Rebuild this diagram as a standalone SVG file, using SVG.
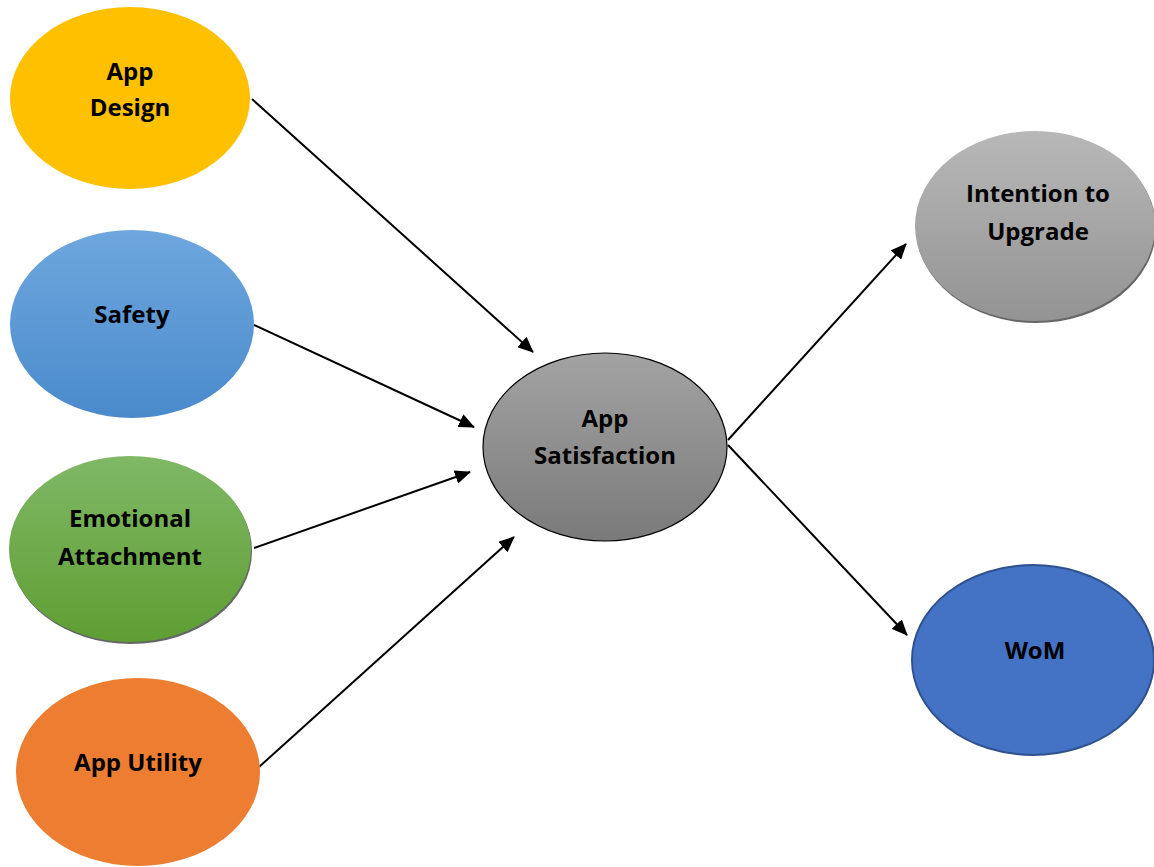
<svg xmlns="http://www.w3.org/2000/svg" width="1154" height="867" viewBox="0 0 1154 867">
<style>
.t{font-family:"Open Sans","Liberation Sans",sans-serif;font-weight:bold;font-size:24px;fill:#000;text-anchor:middle}
.c{stroke:#000;stroke-width:2;fill:none;marker-end:url(#ah)}
</style>
<defs>
<marker id="ah" viewBox="0 0 16 14" refX="15" refY="7" markerWidth="16" markerHeight="14" markerUnits="userSpaceOnUse" orient="auto"><path d="M0,0 L16,7 L0,14 z" fill="#000"/></marker>
<linearGradient id="gBlue" x1="0" y1="0" x2="0" y2="1"><stop offset="0" stop-color="#6ea7de"/><stop offset="1" stop-color="#4a8acb"/></linearGradient>
<linearGradient id="gGreen" x1="0" y1="0" x2="0" y2="1"><stop offset="0" stop-color="#80b866"/><stop offset="1" stop-color="#5e9e32"/></linearGradient>
<linearGradient id="gGray" x1="0" y1="0" x2="0" y2="1"><stop offset="0" stop-color="#a3a3a3"/><stop offset="1" stop-color="#7a7a7a"/></linearGradient>
<linearGradient id="gGray2" x1="0" y1="0" x2="0" y2="1"><stop offset="0" stop-color="#b8b8b8"/><stop offset="1" stop-color="#939393"/></linearGradient>
</defs>
<g id="connectors">
<line class="c" x1="252" y1="99" x2="533" y2="352"/>
<line class="c" x1="254" y1="325" x2="474" y2="427"/>
<line class="c" x1="254" y1="548" x2="470" y2="472"/>
<line class="c" x1="259" y1="767" x2="514" y2="537"/>
<line class="c" x1="728" y1="440" x2="906" y2="244"/>
<line class="c" x1="728" y1="445" x2="907" y2="635"/>
</g>
<g id="app-design">
<ellipse cx="130" cy="98" rx="120" ry="91" fill="#ffc000"/>
<text class="t" x="130" y="80">App</text>
<text class="t" x="130" y="116">Design</text>
</g>
<g id="safety">
<ellipse cx="132" cy="324" rx="122" ry="94" fill="url(#gBlue)"/>
<text class="t" x="132" y="323">Safety</text>
</g>
<g id="emotional-attachment">
<ellipse cx="131" cy="551" rx="121" ry="93" fill="#666"/>
<ellipse cx="130" cy="549" rx="121" ry="93" fill="url(#gGreen)"/>
<text class="t" x="130" y="527">Emotional</text>
<text class="t" x="130" y="565">Attachment</text>
</g>
<g id="app-utility">
<ellipse cx="138" cy="772" rx="122" ry="94" fill="#ed7d31"/>
<text class="t" x="138" y="771">App Utility</text>
</g>
<g id="app-satisfaction">
<ellipse cx="605" cy="447" rx="122" ry="94" fill="url(#gGray)" stroke="#000" stroke-width="1.2"/>
<text class="t" x="605" y="427">App</text>
<text class="t" x="605" y="464">Satisfaction</text>
</g>
<g id="intention-to-upgrade">
<ellipse cx="1036" cy="228" rx="120" ry="95" fill="#666"/>
<ellipse cx="1035" cy="226" rx="120" ry="95" fill="url(#gGray2)"/>
<text class="t" x="1038" y="202">Intention to</text>
<text class="t" x="1038" y="240">Upgrade</text>
</g>
<g id="wom">
<ellipse cx="1033" cy="660" rx="121" ry="95" fill="#4472c4" stroke="#2f528f" stroke-width="2"/>
<text class="t" x="1035" y="659">WoM</text>
</g>
</svg>
